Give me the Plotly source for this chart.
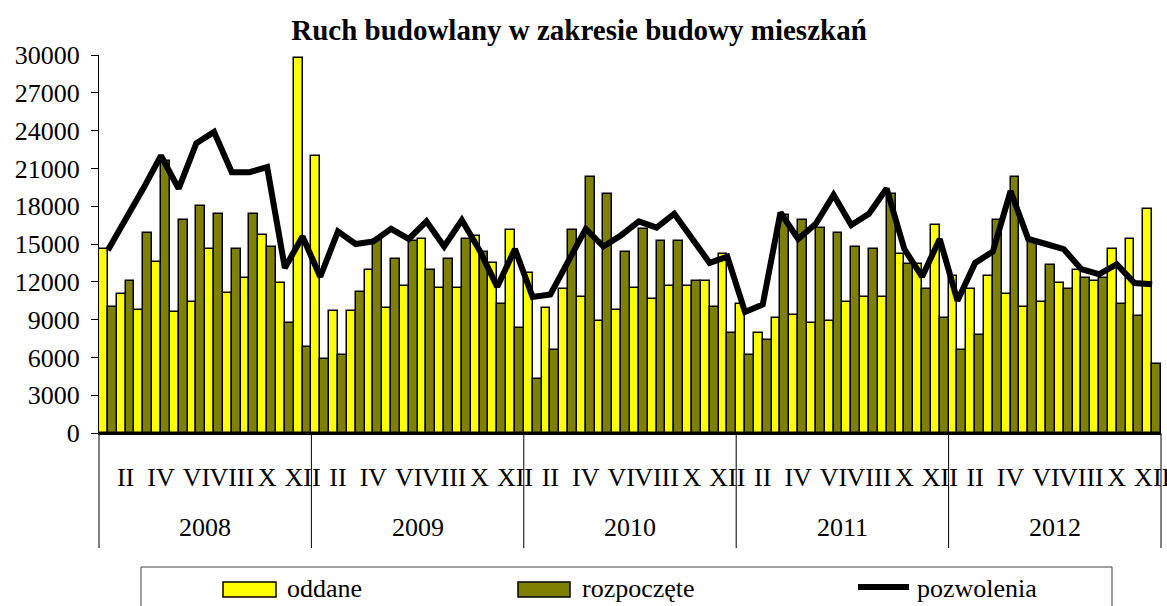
import plotly.graph_objects as go

years = ["2008", "2009", "2010", "2011", "2012"]
months = ["I", "II", "III", "IV", "V", "VI", "VII", "VIII", "IX", "X", "XI", "XII"]

oddane = [
    14600, 11000, 9800, 13600, 9600, 10400, 14600, 11100, 12300, 15700, 11900, 29800,
    22000, 9700, 9700, 12900, 9900, 11700, 15400, 11500, 11500, 15600, 13500, 16100,
    12700, 9900, 11400, 10800, 8900, 9800, 11500, 10600, 11700, 11700, 12100, 14200,
    10200, 7900, 9100, 9400, 8700, 8900, 10400, 10800, 10800, 14200, 13400, 16500,
    12500, 11400, 12500, 11000, 10000, 10400, 11900, 12900, 12100, 14600, 15400, 17800,
]
rozpoczete = [
    10000, 12100, 15900, 21600, 16900, 18000, 17400, 14600, 17400, 14800, 8700, 6800,
    5900, 6200, 11200, 15300, 13800, 15200, 12900, 13800, 15400, 14400, 10200, 8300,
    4300, 6600, 16100, 20300, 19000, 14400, 16200, 15200, 15200, 12100, 10000, 7900,
    6200, 7400, 17300, 16900, 16300, 15900, 14800, 14600, 19000, 13400, 11400, 9100,
    6600, 7800, 16900, 20300, 15300, 13300, 11400, 12300, 12300, 10200, 9300, 5500,
]
pozwolenia = [
    14500, 16900, 19400, 22000, 19400, 23000, 23900, 20700, 20700, 21100, 13100, 15600,
    12400, 16000, 15000, 15200, 16200, 15400, 16800, 14800, 16900, 14500, 11600, 14600,
    10800, 11000, 13700, 16200, 14800, 15700, 16800, 16300, 17400, 15400, 13500, 14000,
    9600, 10200, 17500, 15400, 16600, 18900, 16500, 17400, 19400, 14600, 12400, 15400,
    10500, 13500, 14400, 19200, 15400, 15000, 14600, 13000, 12600, 13400, 11900, 11800,
]
y_ticks = list(range(0, 30001, 3000))
y_ticktext = [str(v) for v in y_ticks]

FONT = "Liberation Serif, Times New Roman, serif"
W, H = 1167, 606
L, R, T, B = 99, 6, 55, 173
PW, PH = W - L - R, H - T - B

cats = [f"{y}-{m}" for y in years for m in months]
n = len(cats)

def px_x(px):
    return (px - L) / PW

def px_y(py):
    return (H - B - py) / PH

fig = go.Figure()
fig.add_trace(go.Bar(x=cats, y=oddane, name="oddane",
                     marker=dict(color="#FFFF00", line=dict(color="black", width=1.5)),
                     showlegend=False))
fig.add_trace(go.Bar(x=cats, y=rozpoczete, name="rozpoczęte",
                     marker=dict(color="#808000", line=dict(color="black", width=1.5)),
                     showlegend=False))
fig.add_trace(go.Scatter(x=cats, y=pozwolenia, name="pozwolenia", mode="lines",
                         line=dict(color="black", width=6), showlegend=False))

tickvals = [c for i, c in enumerate(cats) if i % 2 == 1]
ticktext = [months[i % 12] for i in range(n) if i % 2 == 1]

shapes = []
annotations = []
# year dividers and labels
for k, yr in enumerate(years + [None]):
    xb = (12 * k) / n
    shapes.append(dict(type="line", xref="paper", yref="paper", x0=xb, x1=xb,
                       y0=0, y1=px_y(548), line=dict(color="black", width=1)))
    if yr is not None:
        annotations.append(dict(text=yr, xref="paper", yref="paper",
                                x=(12 * k + 6) / n, y=px_y(527), showarrow=False,
                                xanchor="center", yanchor="middle",
                                font=dict(family=FONT, size=26, color="black")))

# legend (drawn manually)
shapes.append(dict(type="rect", xref="paper", yref="paper",
                   x0=px_x(141), x1=px_x(1112), y0=px_y(567), y1=px_y(640),
                   line=dict(color="#404040", width=1), fillcolor="rgba(0,0,0,0)"))
legend_items = [("oddane", "bar", "#FFFF00", 223, 276, 285),
                ("rozpoczęte", "bar", "#808000", 518, 570, 580),
                ("pozwolenia", "line", "black", 855, 912, 915)]
for name, kind, col, sx0, sx1, tx in legend_items:
    if kind == "bar":
        shapes.append(dict(type="rect", xref="paper", yref="paper",
                           x0=px_x(sx0), x1=px_x(sx1), y0=px_y(597), y1=px_y(582),
                           fillcolor=col, line=dict(color="black", width=1.5)))
    else:
        shapes.append(dict(type="line", xref="paper", yref="paper",
                           x0=px_x(sx0 + 3), x1=px_x(sx1 - 3), y0=px_y(587), y1=px_y(587),
                           line=dict(color="black", width=6)))
    annotations.append(dict(text=name, xref="paper", yref="paper",
                            x=px_x(tx), y=px_y(588), showarrow=False,
                            xanchor="left", yanchor="middle",
                            font=dict(family=FONT, size=26, color="black")))

fig.update_layout(
    width=W, height=H,
    margin=dict(l=L, r=R, t=T, b=B, autoexpand=False),
    paper_bgcolor="white", plot_bgcolor="white",
    barmode="group", bargap=0, bargroupgap=0,
    showlegend=False,
    font=dict(family=FONT, size=26, color="black"),
    title=dict(text="<b>Ruch budowlany w zakresie budowy mieszkań</b>",
               x=579 / W, xref="container", xanchor="center",
               y=1 - 30 / H, yref="container", yanchor="middle",
               font=dict(family=FONT, size=29, color="black")),
    xaxis=dict(type="category", categoryorder="array", categoryarray=cats,
               tickmode="array", tickvals=tickvals, ticktext=ticktext, tickangle=0,
               ticks="", showgrid=False, zeroline=False,
               showline=True, linecolor="black", linewidth=1.5,
               ticklabelstandoff=20, automargin=False,
               tickfont=dict(family=FONT, size=26, color="black")),
    yaxis=dict(range=[0, 30000], tickmode="array", tickvals=y_ticks, ticktext=y_ticktext,
               ticks="outside", ticklen=7, tickcolor="black", tickwidth=1,
               showgrid=False, zeroline=False,
               showline=True, linecolor="black", linewidth=1,
               ticklabelstandoff=6, automargin=False,
               tickfont=dict(family=FONT, size=26, color="black")),
    yaxis2=dict(range=[0, 30000], overlaying="y", side="left",
                tickmode="array", tickvals=y_ticks,
                ticks="inside", ticklen=7, tickcolor="black", tickwidth=1,
                showticklabels=False, showgrid=False, zeroline=False,
                showline=False),
    shapes=shapes,
    annotations=annotations,
)

fig.write_html("out.html", config={"displayModeBar": False},
               post_script="document.body.style.margin='0';")
